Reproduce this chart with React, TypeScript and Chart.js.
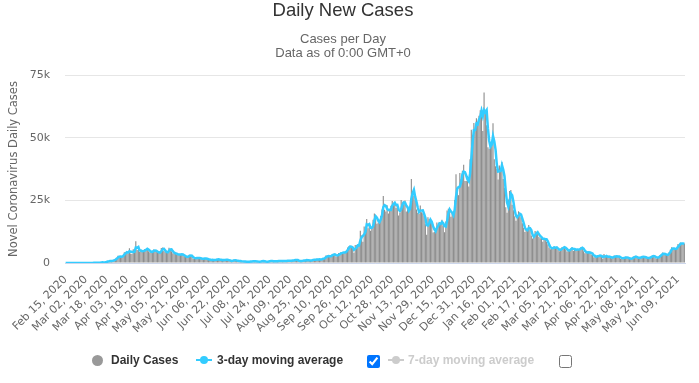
import React, { useEffect, useRef } from 'react';
import { Chart, registerables } from 'chart.js';

Chart.register(...registerables);

// ---- data (daily new cases, starting Feb 15, 2020) ----
const startYear = 2020;
const startMonth = 1; // February (0-based)
const startDay = 15;
const labelEvery = 16;

const feb2020 = [0, 0, 0, 0, 0, 0, 0, 0, 0, 4, 0, 0, 2, 5, 3];
const mar2020 = [12, 4, 11, 34, 30, 48, 43, 67, 48, 52, 83, 138, 208, 342, 251, 152, 407, 676, 643, 714, 1035, 665, 967, 1427, 1452, 2129, 2885, 2546, 2433, 2619, 3009];
const apr2020 = [4324, 4244, 4450, 3735, 5903, 3802, 3634, 5491, 4344, 8681, 5233, 5288, 4342, 5252, 4603, 4617, 5599, 5525, 5850, 4676, 4301, 4451, 4583, 5386, 4913, 4463, 4309, 3996, 4076, 6032];
const may2020 = [6201, 4806, 4339, 3985, 4406, 6111, 5614, 4649, 3896, 3923, 3877, 3403, 3242, 3446, 3560, 3450, 3142, 2684, 2412, 2472, 2615, 3287, 2959, 2409, 1625, 2004, 2013, 1887, 2095, 1936, 1570];
const jun2020 = [1653, 1871, 1805, 1650, 1557, 1326, 1205, 1205, 1387, 1003, 1266, 1541, 1425, 1514, 1056, 1279, 1115, 1218, 1346, 1295, 1221, 958, 921, 653, 1118, 1380, 890, 901, 815, 689];
const jul2020 = [829, 576, 544, 624, 516, 352, 581, 630, 642, 512, 820, 650, 530, 598, 538, 463, 687, 827, 726, 580, 445, 560, 769, 768, 767, 747, 685, 581, 763, 846, 880];
const aug2020 = [743, 744, 938, 670, 892, 950, 871, 758, 1062, 816, 1148, 1009, 1441, 1012, 1040, 726, 713, 1089, 812, 1182, 1033, 1288, 1041, 853, 1184, 1048, 1522, 1276, 1108, 1715, 1406];
const sep2020 = [1295, 1508, 1735, 1940, 1813, 2988, 2948, 2460, 2659, 2919, 3539, 3497, 3330, 2621, 3105, 3991, 3395, 4322, 4422, 3899, 4368, 4926, 6178, 6634, 6874, 6042, 5693, 4044, 7143, 7108];
const oct2020 = [6914, 6968, 12872, 11000, 8500, 14542, 14162, 17540, 13864, 15166, 12872, 13972, 17234, 19724, 18980, 15650, 16171, 16982, 18804, 21331, 26688, 21242, 20530, 23012, 19790, 20890, 22885, 24701, 23065, 24405, 21915];
const nov2020 = [23254, 18950, 20018, 25177, 24141, 23287, 24957, 20572, 21350, 20412, 22950, 33470, 27301, 26860, 24962, 21363, 20051, 19609, 22915, 20252, 19875, 18662, 15450, 11299, 18213, 17555, 16022, 15871, 12155, 12330];
const dec2020 = [13430, 16170, 14879, 16298, 15539, 17272, 14718, 12282, 16578, 20964, 21672, 21502, 18447, 20263, 18450, 25161, 35383, 28507, 27052, 35928, 33364, 36804, 39237, 32725, 32725, 34693, 30501, 41385, 53135, 50023, 55892];
const jan2021 = [53285, 57725, 54990, 58784, 60916, 62322, 52618, 68053, 59937, 54940, 46169, 45533, 47525, 48682, 55761, 41346, 38598, 37535, 33355, 38905, 37892, 40261, 33552, 30004, 22195, 20089, 25308, 28680, 29079, 23275, 21088];
const feb2021 = [18607, 16840, 19202, 20634, 19114, 18262, 15845, 14104, 12364, 13494, 13308, 15144, 13308, 10972, 9765, 10625, 12718, 12057, 12027, 10406, 9834, 10641, 8489, 9938, 9985, 8523, 7434, 6035];
const mar2021 = [5455, 6385, 5766, 6573, 6040, 6069, 5177, 4712, 5766, 6305, 5926, 6609, 5534, 4618, 5089, 5294, 5758, 6303, 4802, 5587, 5312, 5342, 5379, 5605, 6397, 6187, 4715, 3862, 4654, 4052, 4115];
const apr2021 = [4479, 3402, 3423, 2297, 2762, 2379, 2963, 3030, 2937, 2589, 1730, 3568, 2472, 2491, 2596, 2555, 2206, 1882, 2524, 2963, 2396, 2729, 2678, 2381, 1712, 2064, 1946, 2166, 2445, 2061];
const may2021 = [1907, 1671, 1649, 1946, 2613, 2490, 2459, 2047, 1770, 2357, 2474, 2284, 2657, 2193, 2027, 1926, 1979, 2412, 2696, 2874, 2829, 2235, 1843, 2439, 2493, 3180, 3542, 4182, 3398, 3240, 3383];
const jun2021 = [3165, 4330, 5274, 6238, 5765, 5341, 5683, 6048, 7540, 7393, 8125, 7738, 7490, 7742];

const dailyCases = [
  ...feb2020, ...mar2020, ...apr2020, ...may2020, ...jun2020, ...jul2020,
  ...aug2020, ...sep2020, ...oct2020, ...nov2020, ...dec2020, ...jan2021,
  ...feb2021, ...mar2021, ...apr2021, ...may2021, ...jun2021,
];

const yTicks = [0, 25000, 50000, 75000];
const monthNames = ['Jan', 'Feb', 'Mar', 'Apr', 'May', 'Jun', 'Jul', 'Aug', 'Sep', 'Oct', 'Nov', 'Dec'];

function makeLabels(n: number): string[] {
  const t0 = Date.UTC(startYear, startMonth, startDay);
  const out: string[] = [];
  for (let i = 0; i < n; i++) {
    const d = new Date(t0 + i * 86400000);
    out.push(`${monthNames[d.getUTCMonth()]} ${String(d.getUTCDate()).padStart(2, '0')}, ${d.getUTCFullYear()}`);
  }
  return out;
}

function movingAverage(arr: number[], w: number): number[] {
  return arr.map((_, i) => {
    const s = Math.max(0, i - w + 1);
    const slice = arr.slice(s, i + 1);
    return slice.reduce((a, b) => a + b, 0) / slice.length;
  });
}

const labels = makeLabels(dailyCases.length);
const avg3 = movingAverage(dailyCases, 3);

const SANS = "'Liberation Sans', Arial, sans-serif";
const DEJAVU = "'DejaVu Sans', 'Liberation Sans', sans-serif";

export default function App() {
  const ref = useRef<HTMLCanvasElement | null>(null);

  useEffect(() => {
    document.body.style.margin = '0';
    const canvas = ref.current;
    if (!canvas) return;
    const chart = new Chart(canvas, {
      type: 'bar',
      data: {
        labels,
        datasets: [
          {
            type: 'line',
            label: '3-day moving average',
            data: avg3,
            borderColor: '#33ccff',
            backgroundColor: '#33ccff',
            borderWidth: 2.5,
            pointRadius: 0,
            tension: 0,
          } as any,
          {
            type: 'bar',
            label: 'Daily Cases',
            data: dailyCases,
            backgroundColor: '#8e8e8e',
            barPercentage: 1,
            categoryPercentage: 0.88,
            inflateAmount: 0,
          } as any,
        ],
      },
      options: {
        responsive: false,
        animation: false,
        devicePixelRatio: 1,
        layout: { padding: { left: 0, right: 14, top: 75, bottom: 40 } },
        plugins: {
          legend: { display: false },
          tooltip: { enabled: false },
          title: { display: false },
          subtitle: { display: false },
        },
        scales: {
          x: {
            type: 'category',
            offset: true,
            grid: { display: false, drawTicks: false },
            border: { display: true, color: '#ccd6eb', width: 1 },
            ticks: {
              autoSkip: false,
              minRotation: 45,
              maxRotation: 45,
              padding: 10,
              color: '#666666',
              font: { family: DEJAVU, size: 11 },
              callback: (_v: any, i: number) => (i % labelEvery === 0 ? labels[i] : null),
            },
            afterFit: (s: any) => { s.height = 80; },
          },
          y: {
            min: 0,
            max: 75000,
            afterBuildTicks: (s: any) => { s.ticks = yTicks.map((v) => ({ value: v })); },
            grid: { color: '#e6e6e6', drawTicks: false },
            border: { display: false },
            ticks: {
              padding: 15,
              color: '#666666',
              font: { family: DEJAVU, size: 11 },
              callback: (v: any) => (Number(v) === 0 ? '0' : `${Number(v) / 1000}k`),
            },
            title: {
              display: true,
              text: 'Novel Coronavirus Daily Cases',
              color: '#666666',
              font: { family: DEJAVU, size: 11.5 },
              padding: { top: 7, bottom: 0 },
            },
            afterFit: (s: any) => { s.width = 65; },
          },
        },
      },
    });
    return () => chart.destroy();
  }, []);

  const txt: React.CSSProperties = {
    position: 'absolute',
    top: 352,
    fontFamily: SANS,
    fontWeight: 'bold',
    fontSize: 12,
    lineHeight: '16px',
    whiteSpace: 'nowrap',
  };

  const head: React.CSSProperties = {
    position: 'absolute',
    left: 0,
    width: 686,
    textAlign: 'center',
    fontFamily: SANS,
    whiteSpace: 'nowrap',
  };

  return (
    <div style={{ position: 'relative', width: 699, height: 383, background: '#ffffff', overflow: 'hidden' }}>
      <canvas ref={ref} width={699} height={383} style={{ display: 'block' }} />
      <div style={{ ...head, top: 1, fontSize: 18.5, lineHeight: '18.5px', color: '#333333' }}>Daily New Cases</div>
      <div style={{ ...head, top: 31.5, fontSize: 13, lineHeight: '14px', color: '#666666' }}>
        Cases per Day<br />Data as of 0:00 GMT+0
      </div>
      <div style={{ position: 'absolute', left: 92, top: 355, width: 11, height: 11, borderRadius: '50%', background: '#999999' }} />
      <div style={{ ...txt, left: 111, color: '#333333' }}>Daily Cases</div>
      <div style={{ position: 'absolute', left: 196, top: 359, width: 16, height: 2, background: '#33ccff' }} />
      <div style={{ position: 'absolute', left: 200, top: 356, width: 8, height: 8, borderRadius: '50%', background: '#33ccff' }} />
      <div style={{ ...txt, left: 217, color: '#333333' }}>3-day moving average</div>
      <input type="checkbox" defaultChecked style={{ position: 'absolute', left: 367, top: 355, margin: 0, width: 13, height: 13 }} />
      <div style={{ position: 'absolute', left: 388, top: 359, width: 16, height: 2, background: '#cccccc' }} />
      <div style={{ position: 'absolute', left: 392, top: 356, width: 8, height: 8, borderRadius: '50%', background: '#cccccc' }} />
      <div style={{ ...txt, left: 408, color: '#cccccc' }}>7-day moving average</div>
      <input type="checkbox" style={{ position: 'absolute', left: 559, top: 355, margin: 0, width: 13, height: 13 }} />
    </div>
  );
}
